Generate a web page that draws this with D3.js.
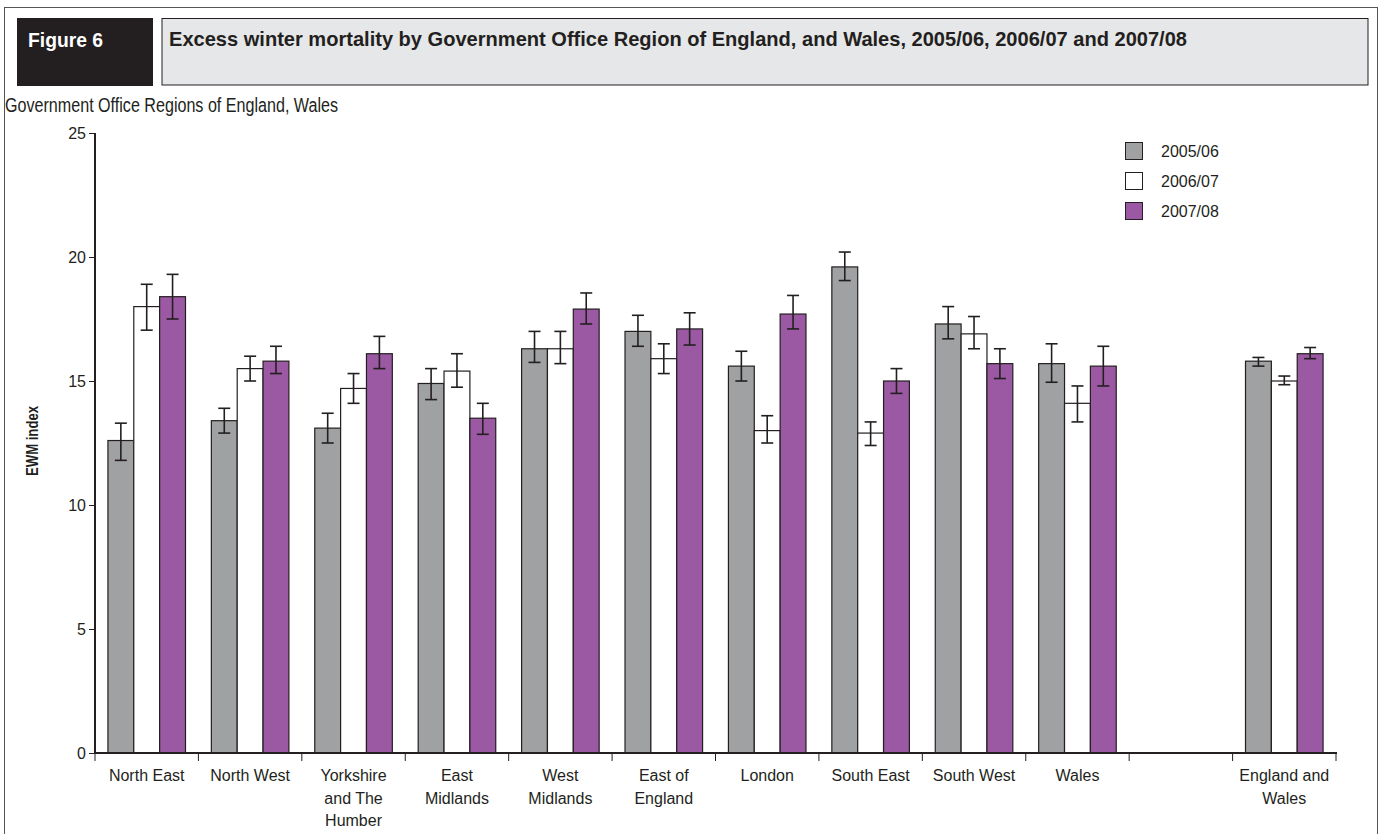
<!DOCTYPE html>
<html>
<head>
<meta charset="utf-8">
<script src="https://cdn.jsdelivr.net/npm/d3@7/dist/d3.min.js"></script>
<style>
  html, body { margin: 0; padding: 0; background: #fff; }
  svg { display: block; font-family: "Liberation Sans", Arial, sans-serif; }
</style>
</head>
<body>
<svg id="chart" width="1380" height="834"></svg>
<script>
// ---- Data ----
const categories = ["North East", "North West", "Yorkshire and The Humber", "East Midlands",
  "West Midlands", "East of England", "London", "South East", "South West", "Wales", "", "England and Wales"];
const categoryLines = [["North East"], ["North West"], ["Yorkshire", "and The", "Humber"], ["East", "Midlands"],
  ["West", "Midlands"], ["East of", "England"], ["London"], ["South East"], ["South West"], ["Wales"], [], ["England and", "Wales"]];
const seriesNames = ["2005/06", "2006/07", "2007/08"];

const values2005 = [12.6, 13.4, 13.1, 14.9, 16.3, 17.0, 15.6, 19.6, 17.3, 15.7, null, 15.8];
const lower2005  = [11.8, 12.9, 12.5, 14.25, 15.75, 16.4, 15.0, 19.05, 16.7, 14.95, null, 15.6];
const upper2005  = [13.3, 13.9, 13.7, 15.5, 17.0, 17.65, 16.2, 20.2, 18.0, 16.5, null, 15.95];

const values2006 = [18.0, 15.5, 14.7, 15.4, 16.3, 15.9, 13.0, 12.9, 16.9, 14.1, null, 15.0];
const lower2006  = [17.05, 15.0, 14.1, 14.75, 15.7, 15.3, 12.5, 12.4, 16.3, 13.35, null, 14.85];
const upper2006  = [18.9, 16.0, 15.3, 16.1, 17.0, 16.5, 13.6, 13.35, 17.6, 14.8, null, 15.2];

const values2007 = [18.4, 15.8, 16.1, 13.5, 17.9, 17.1, 17.7, 15.0, 15.7, 15.6, null, 16.1];
const lower2007  = [17.5, 15.3, 15.5, 12.85, 17.3, 16.45, 17.1, 14.5, 15.1, 14.8, null, 15.9];
const upper2007  = [19.3, 16.4, 16.8, 14.1, 18.55, 17.75, 18.45, 15.5, 16.3, 16.4, null, 16.35];

const yTicks = [0, 5, 10, 15, 20, 25];

// ---- Styles ----
const fills = ["#a0a1a3", "#ffffff", "#9b59a3"];
const dark = "#231f20";

const svg = d3.select("#chart");

// Outer frame
svg.append("rect").attr("x", 4.5).attr("y", 7.5).attr("width", 1373).attr("height", 830)
  .attr("fill", "none").attr("stroke", "#555").attr("stroke-width", 1);

// Header boxes
svg.append("rect").attr("x", 17).attr("y", 18).attr("width", 136).attr("height", 68)
  .attr("fill", dark);
svg.append("text").attr("x", 28).attr("y", 47).attr("fill", "#fff")
  .attr("font-weight", "bold").attr("font-size", 21)
  .attr("textLength", 75).attr("lengthAdjust", "spacingAndGlyphs").text("Figure 6");
svg.append("rect").attr("x", 162).attr("y", 18.5).attr("width", 1206).attr("height", 66.5)
  .attr("fill", "#e6e7e8").attr("stroke", dark).attr("stroke-width", 1);
svg.append("text").attr("x", 169).attr("y", 46).attr("fill", dark)
  .attr("font-weight", "bold").attr("font-size", 21)
  .attr("textLength", 1018).attr("lengthAdjust", "spacingAndGlyphs")
  .text("Excess winter mortality by Government Office Region of England, and Wales, 2005/06, 2006/07 and 2007/08");

svg.append("text").attr("x", 5).attr("y", 112).attr("fill", dark)
  .attr("font-size", 20)
  .attr("textLength", 333).attr("lengthAdjust", "spacingAndGlyphs")
  .text("Government Office Regions of England, Wales");

// ---- Scales ----
const x0 = d3.scaleBand().domain(d3.range(categories.length)).range([95, 1336]).paddingInner(0).paddingOuter(0);
const bw = x0.bandwidth();
const x1 = d3.scaleBand().domain(seriesNames).range([bw * 0.125, bw * 0.875]).padding(0);
const y = d3.scaleLinear().domain([0, 25]).range([753, 133]);

const series = [
  { name: seriesNames[0], v: values2005, lo: lower2005, hi: upper2005, fill: fills[0] },
  { name: seriesNames[1], v: values2006, lo: lower2006, hi: upper2006, fill: fills[1] },
  { name: seriesNames[2], v: values2007, lo: lower2007, hi: upper2007, fill: fills[2] }
];

// Bars
const gBars = svg.append("g");
series.forEach(s => {
  const data = s.v.map((v, i) => ({ i, v, lo: s.lo[i], hi: s.hi[i] })).filter(d => d.v != null);
  gBars.selectAll(null).data(data).enter().append("rect")
    .attr("x", d => x0(d.i) + x1(s.name))
    .attr("y", d => y(d.v))
    .attr("width", x1.bandwidth())
    .attr("height", d => y(0) - y(d.v))
    .attr("fill", s.fill)
    .attr("stroke", dark).attr("stroke-width", 1.2);
});

// Error bars
const gErr = svg.append("g").attr("stroke", dark).attr("stroke-width", 1.6);
series.forEach(s => {
  const data = s.v.map((v, i) => ({ i, v, lo: s.lo[i], hi: s.hi[i] })).filter(d => d.v != null);
  data.forEach(d => {
    const cx = x0(d.i) + x1(s.name) + x1.bandwidth() / 2;
    gErr.append("line").attr("x1", cx).attr("x2", cx).attr("y1", y(d.hi)).attr("y2", y(d.lo));
    gErr.append("line").attr("x1", cx - 6).attr("x2", cx + 6).attr("y1", y(d.hi)).attr("y2", y(d.hi));
    gErr.append("line").attr("x1", cx - 6).attr("x2", cx + 6).attr("y1", y(d.lo)).attr("y2", y(d.lo));
  });
});

// Y axis
const yAxis = svg.append("g").attr("transform", "translate(95,0)")
  .call(d3.axisLeft(y).tickValues(yTicks).tickSize(6).tickPadding(3).tickFormat(d3.format("d")));
yAxis.select(".domain").attr("stroke", dark).attr("stroke-width", 2).attr("d", `M0,${y(25)}V${y(0) + 1}`);
yAxis.selectAll(".tick line").attr("stroke", dark).attr("stroke-width", 1);
yAxis.selectAll(".tick text").attr("fill", dark).attr("font-size", 16)
  .attr("font-family", "'Liberation Sans', Arial, sans-serif");

// X axis
const xAxis = svg.append("g").attr("transform", "translate(0,753)");
xAxis.append("line").attr("x1", 94).attr("x2", 1337).attr("y1", 0).attr("y2", 0)
  .attr("stroke", dark).attr("stroke-width", 2);
const boundaries = d3.range(categories.length + 1).map(i => i < categories.length ? x0(i) : x0(i - 1) + bw);
xAxis.selectAll(null).data(boundaries).enter().append("line")
  .attr("x1", d => d).attr("x2", d => d).attr("y1", 0).attr("y2", 8)
  .attr("stroke", dark).attr("stroke-width", 1);
categories.forEach((c, i) => {
  const t = xAxis.append("text").attr("x", x0(i) + bw / 2).attr("y", 28)
    .attr("text-anchor", "middle").attr("fill", dark).attr("font-size", 16);
  categoryLines[i].forEach((line, k) => {
    t.append("tspan").attr("x", x0(i) + bw / 2).attr("dy", k === 0 ? 0 : 22.5).text(line);
  });
});

// Y label
svg.append("text").attr("transform", "translate(38,441) rotate(-90)")
  .attr("text-anchor", "middle").attr("font-weight", "bold").attr("font-size", 17).attr("fill", dark)
  .attr("textLength", 70).attr("lengthAdjust", "spacingAndGlyphs").text("EWM index");

// Legend
const lg = svg.append("g");
seriesNames.forEach((n, k) => {
  lg.append("rect").attr("x", 1125.5).attr("y", 142.5 + k * 30).attr("width", 17).attr("height", 17)
    .attr("fill", fills[k]).attr("stroke", dark).attr("stroke-width", 1);
  lg.append("text").attr("x", 1161).attr("y", 157 + k * 30).attr("fill", dark).attr("font-size", 16).text(n);
});
</script>
</body>
</html>
